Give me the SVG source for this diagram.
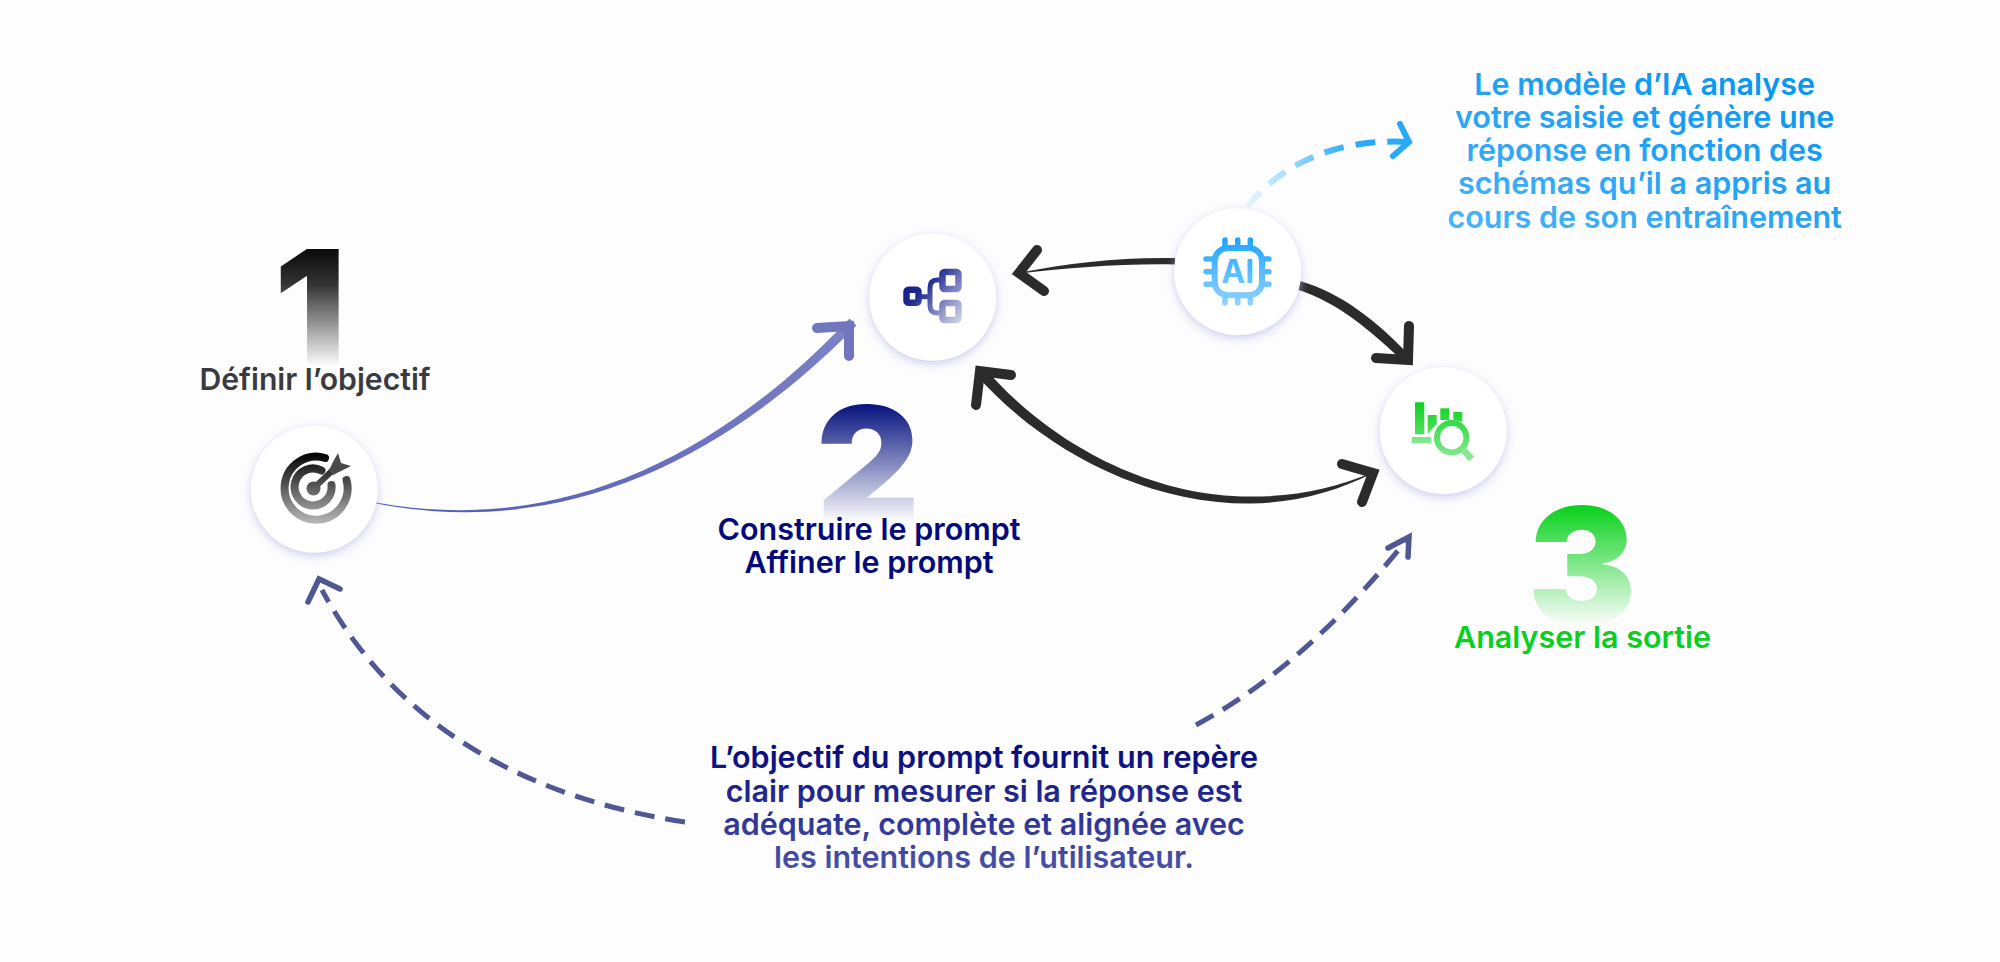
<svg xmlns="http://www.w3.org/2000/svg" width="2000" height="962" viewBox="0 0 2000 962">
<style>
.lbl{font-family:"Inter","Liberation Sans",sans-serif;font-weight:600;font-size:30.5px;text-anchor:middle}
.num{font-family:"Inter","Liberation Sans",sans-serif;font-weight:900;font-size:160px;text-anchor:middle}
.disc{fill:#fff;filter:url(#sh)}
.blk{fill:none;stroke:#2b2b2b;stroke-width:10;stroke-linecap:round;stroke-linejoin:miter;stroke-miterlimit:10}
.dash{fill:none;stroke:#4f5794;stroke-width:5;stroke-dasharray:20 11}
.dhead{fill:none;stroke:#4f5794;stroke-width:5.5;stroke-linecap:round;stroke-linejoin:miter}
</style>
<defs>
<filter id="sh" x="-30%" y="-30%" width="160%" height="160%"><feDropShadow dx="0" dy="3" stdDeviation="5" flood-color="#b9b9e6" flood-opacity="0.7"/></filter>
<linearGradient id="g1" gradientUnits="userSpaceOnUse" x1="0" y1="249" x2="0" y2="366"><stop offset="0" stop-color="#0a0a0a"/><stop offset="0.3" stop-color="#333"/><stop offset="1" stop-color="#fdfdfe"/></linearGradient>
<linearGradient id="g2" gradientUnits="userSpaceOnUse" x1="0" y1="406" x2="0" y2="522"><stop offset="0" stop-color="#0a1580"/><stop offset="1" stop-color="#fdfdfe"/></linearGradient>
<linearGradient id="g3" gradientUnits="userSpaceOnUse" x1="0" y1="506" x2="0" y2="626"><stop offset="0" stop-color="#0ad21c"/><stop offset="1" stop-color="#fdfdfe"/></linearGradient>
<linearGradient id="gblue" gradientUnits="userSpaceOnUse" x1="1800" y1="95" x2="1665" y2="489"><stop offset="0" stop-color="#0896f0"/><stop offset="1" stop-color="#78c8ff"/></linearGradient>
<linearGradient id="gnavy" gradientUnits="userSpaceOnUse" x1="0" y1="745" x2="0" y2="870"><stop offset="0" stop-color="#050a7a"/><stop offset="1" stop-color="#4a52a8"/></linearGradient>
<linearGradient id="gpurple" gradientUnits="userSpaceOnUse" x1="376" y1="503" x2="853" y2="322"><stop offset="0" stop-color="#4f57b4"/><stop offset="1" stop-color="#7c82c5"/></linearGradient>
<linearGradient id="gdashblue" gradientUnits="userSpaceOnUse" x1="1247" y1="207" x2="1390" y2="140"><stop offset="0" stop-color="#e8f6ff"/><stop offset="0.35" stop-color="#a3dbfe"/><stop offset="0.6" stop-color="#52b9fd"/><stop offset="0.85" stop-color="#28a9fc"/></linearGradient>
<linearGradient id="gtarget" gradientUnits="userSpaceOnUse" x1="0" y1="453" x2="0" y2="525"><stop offset="0" stop-color="#000"/><stop offset="1" stop-color="#bdbdbd"/></linearGradient>
<linearGradient id="gflow" gradientUnits="userSpaceOnUse" x1="905" y1="275" x2="962" y2="325"><stop offset="0" stop-color="#0d1a87"/><stop offset="0.3" stop-color="#1f2a90"/><stop offset="0.6" stop-color="#7a80bd"/><stop offset="1" stop-color="#dcdef0"/></linearGradient>
<linearGradient id="gai" gradientUnits="userSpaceOnUse" x1="0" y1="237" x2="0" y2="306"><stop offset="0" stop-color="#1da3ff"/><stop offset="1" stop-color="#93d3ff"/></linearGradient>
<linearGradient id="ggreen" gradientUnits="userSpaceOnUse" x1="0" y1="402" x2="0" y2="460"><stop offset="0" stop-color="#0ad21c"/><stop offset="1" stop-color="#8ce998"/></linearGradient>
</defs>
<rect width="2000" height="962" fill="#fdfdfe"/>
<g id="connectors">
<g id="c-goal-prompt">
<path fill="url(#gpurple)" d="M376,502.500C560,536 718.400,456.900 849.500,318.400L856.500,325.600C721.600,463.100 560,539 376,503.500Z"/>
<path d="M817,328L849,326L849,356" fill="none" stroke="#7077bd" stroke-width="10" stroke-linecap="round"/>
</g>
<g id="c-ai-prompt">
<path fill="#2b2b2b" d="M1020,272.500C1070,263 1120,257 1175,258L1175,264.500C1120,263.500 1070,268 1020,273.500Z"/>
<path class="blk" d="M1037,250L1019,273L1044,291"/>
</g>
<g id="c-ai-analyse">
<path fill="#2b2b2b" d="M1300,281C1342,293 1378,322 1411,357L1405,363C1372,332 1338,302 1297,289.500Z"/>
<path class="blk" d="M1376,358L1408,360L1409,326"/>
</g>
<g id="c-prompt-analyse">
<path fill="#2b2b2b" d="M984.200,367.400C1042.600,435.700 1140.500,496 1250,496.500C1295,497 1335.400,487.800 1372,472.500L1372,473.500C1334.600,492.200 1295,503 1250,503.500C1139.500,504 1037.400,444.300 975.800,374.600Z"/>
<path class="blk" d="M1011,375L980,371L976,405"/>
<path class="blk" d="M1342,464L1373,473L1362,502"/>
</g>
<g id="c-ai-note">
<path d="M1247,207C1280,165 1335,138 1408,142" fill="none" stroke="url(#gdashblue)" stroke-width="6" stroke-dasharray="20 12"/>
<path d="M1400,124L1409,142L1393,156" fill="none" stroke="#28a9fc" stroke-width="6" stroke-linecap="round"/>
</g>
<g id="c-note-goal">
<path class="dash" d="M685,822C540,800 400,735 322,590"/>
<path class="dhead" d="M308,602L319,579L340,589"/>
</g>
<g id="c-note-analyse">
<path class="dash" d="M1196,725C1280,680 1350,610 1405,542"/>
<path class="dhead" d="M1388,548L1409,537L1408,557"/>
</g>
</g>
<g id="node-goal">
<text class="num" x="310" y="365" fill="url(#g1)">1</text>
<text class="lbl" x="315" y="390" fill="#3b3b3f" style="font-size:30.2px">Définir l’objectif</text>
<circle class="disc" cx="314.300" cy="489.300" r="63.500"/>
<g fill="none" stroke="url(#gtarget)" stroke-width="8" stroke-linecap="round">
<path d="M325,458A31.500,31.500 0 1 0 346.500,480"/>
<path d="M321.500,470.500A18.500,18.500 0 1 0 331.500,485"/>
</g>
<circle cx="313.500" cy="488.500" r="7" fill="url(#gtarget)"/>
<path d="M314,488L335,468" stroke="url(#gtarget)" stroke-width="6" fill="none"/>
<path d="M338,453L341,463L351,466L343,470L333,475L329,470L333.500,461Z" fill="#4a4a4a"/>
</g>
<g id="node-prompt">
<text class="num" x="868" y="522.500" fill="url(#g2)" style="font-size:161px">2</text>
<text class="lbl" x="869" y="540" fill="#050a7a">Construire le prompt</text>
<text class="lbl" x="869" y="573" fill="#050a7a">Affiner le prompt</text>
<circle class="disc" cx="932.700" cy="297.300" r="63.500"/>
<g fill="none" stroke="url(#gflow)" stroke-width="6.500">
<rect x="906.500" y="289.700" width="12" height="13" rx="2"/>
<rect x="942.500" y="272" width="16" height="17" rx="2"/>
<rect x="942.500" y="303" width="16" height="17" rx="2"/>
<path stroke-width="5" d="M921,296.700H930M940,280H937Q930,280 930,288V305Q930,313 937,313H940"/>
</g>
</g>
<g id="node-ai">
<circle class="disc" cx="1237.700" cy="271.700" r="63.500"/>
<g fill="none" stroke="url(#gai)" stroke-linecap="round">
<rect x="1214.700" y="248" width="47.300" height="47.300" rx="13" stroke-width="6"/>
<path stroke-width="5.500" d="M1225,240V248M1237.700,240V248M1250.300,240V248M1225,295V303M1237.700,295V303M1250.300,295V303M1206,259H1214M1206,271.700H1214M1206,284.300H1214M1262,259H1269M1262,271.700H1269M1262,284.300H1269"/>
</g>
<text x="1237.700" y="283" font-family="Inter,'Liberation Sans',sans-serif" font-weight="700" font-size="32" text-anchor="middle" fill="url(#gai)">AI</text>
</g>
<g id="node-analyse">
<text class="num" x="1582" y="625" fill="url(#g3)" style="font-size:163px">3</text>
<text class="lbl" x="1582.500" y="648" fill="#0bcf1e">Analyser la sortie</text>
<circle class="disc" cx="1443.300" cy="430.700" r="63.500"/>
<g fill="url(#ggreen)">
<rect x="1415" y="402.300" width="9.300" height="32"/>
<path d="M1427.700,415H1436.700V424L1427.700,434Z"/>
<path d="M1440.300,408.300H1449.300V420H1440.300Z"/>
<path d="M1453.300,412H1462.300V422L1453.300,420Z"/>
<rect x="1411.700" y="437" width="19.300" height="6.300" opacity="0.8"/>
</g>
<circle cx="1451.700" cy="437.700" r="14.700" fill="#fff" stroke="url(#ggreen)" stroke-width="6"/>
<path d="M1462.500,449L1471.700,459" stroke="#85e893" stroke-width="7" fill="none"/>
</g>
<g id="note-ai" class="lbl" fill="url(#gblue)">
<text x="1644.700" y="95">Le modèle d’IA analyse</text>
<text x="1644.700" y="128">votre saisie et génère une</text>
<text x="1644.700" y="161">réponse en fonction des</text>
<text x="1644.700" y="194">schémas qu’il a appris au</text>
<text x="1644.700" y="227.500">cours de son entraînement</text>
</g>
<g id="note-goal" class="lbl" fill="url(#gnavy)">
<text x="984" y="768">L’objectif du prompt fournit un repère</text>
<text x="984" y="801.500">clair pour mesurer si la réponse est</text>
<text x="984" y="835">adéquate, complète et alignée avec</text>
<text x="984" y="868">les intentions de l’utilisateur.</text>
</g>
</svg>
